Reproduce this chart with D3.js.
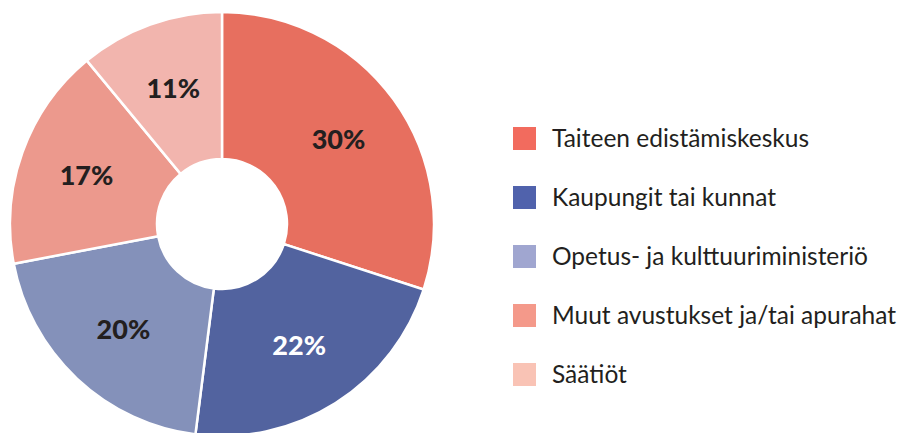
<!DOCTYPE html>
<html><head><meta charset="utf-8">
<script src="https://cdn.jsdelivr.net/npm/d3@7"></script>
<style>body{margin:0;background:#fff}</style>
</head><body>
<svg id="c" width="899" height="433"></svg>
<script>
const categories = ["Taiteen edistämiskeskus","Kaupungit tai kunnat","Opetus- ja kulttuuriministeriö","Muut avustukset ja/tai apurahat","Säätiöt"];
const values = [30, 22, 20, 17, 11];
const sliceColors = ["#E76F5F","#52639F","#8491BA","#EC998D","#F2B5AE"];
const legendColors = ["#F26B5E","#5062AC","#A0A6D0","#F4998A","#F9C3B5"];
const labelColors = ["#231f20","#ffffff","#231f20","#231f20","#231f20"];

const svg = d3.select("#c");
const cx = 222, cy = 224, R = 212, r0 = 65;
const g = svg.append("g").attr("transform", `translate(${cx},${cy})`);
const pie = d3.pie().sort(null).value(d => d.v);
const data = pie(values.map((v,i)=>({v,i})));
const arc = d3.arc().innerRadius(r0).outerRadius(R);
const labelArc = d3.arc().innerRadius(144).outerRadius(144);

g.selectAll("path").data(data).join("path")
  .attr("d", arc)
  .attr("fill", d => sliceColors[d.data.i])
  .attr("stroke", "#fff").attr("stroke-width", 2.5);

g.selectAll("text").data(data).join("text")
  .attr("transform", d => `translate(${labelArc.centroid(d)})`)
  .attr("text-anchor","middle").attr("dy","0.36em")
  .attr("font-family","Lato").attr("font-weight",900).attr("font-size",27)
  .attr("fill", d => labelColors[d.data.i])
  .text(d => d.data.v + "%");

const y = d3.scalePoint().domain(categories).range([138.5, 374.5]);
const lg = svg.append("g");
const items = lg.selectAll("g").data(categories).join("g")
  .attr("transform", d => `translate(513,${y(d)})`);
items.append("rect").attr("x",0).attr("y",-11.5).attr("width",23).attr("height",23)
  .attr("fill",(d,i)=>legendColors[i]);
items.append("text").attr("x",39).attr("dy","0.35em")
  .attr("font-family","Lato").attr("font-size",24.5).attr("fill","#231f20")
  .text(d=>d);
</script>
</body></html>
